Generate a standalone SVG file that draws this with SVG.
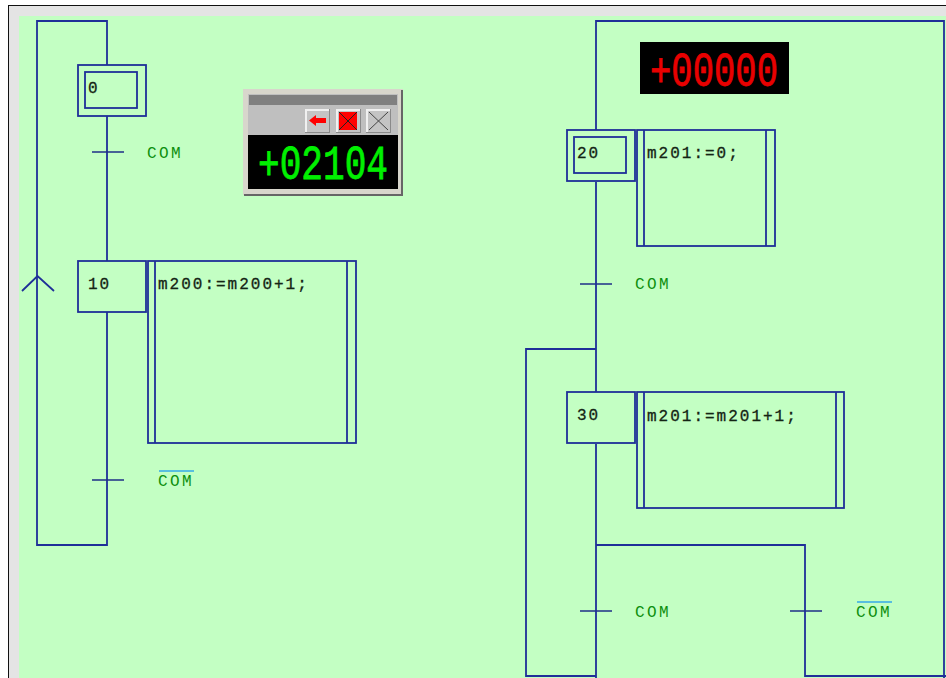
<svg xmlns="http://www.w3.org/2000/svg" width="946" height="678" viewBox="0 0 946 678">
<style>
.l{fill:none;stroke:#1f2f98;stroke-width:1.8}
.t{fill:none;stroke:#1f2f88;stroke-width:1.5}
.m{font-family:"Liberation Mono",monospace;font-size:16px;fill:#142414;letter-spacing:2px;stroke:#142414;stroke-width:.3}
.c{font-family:"Liberation Mono",monospace;font-size:16px;fill:#0e8f0e;letter-spacing:2.4px}
.o{stroke:#35a8e8;stroke-width:1.6}
.d{font-family:"Liberation Mono",monospace;font-size:48px}
.b{fill:#c4c4c4;stroke:#8a8a8a;stroke-width:1}
.h{fill:none;stroke:#f0f0f0;stroke-width:2}
</style>
<rect width="946" height="678" fill="#fff"/>
<rect x="8.500" y="5.500" width="938" height="674" fill="#e4e4e4" stroke="#111"/>
<rect x="19" y="16" width="927" height="662" fill="#c3ffc3"/>
<g id="connectors">
<path class="l" d="M107 65V21H37V545H107V312M107 116V261"/>
<path class="l" d="M22 291L37.500 276L54 291"/>
<path class="t" d="M92 152H124M92 480H124M580 284H612M580 611H612M790 611H822"/>
<path class="l" d="M596 130V21H944V678M596 182V392M596 444V678M596 349H526V676H596M596 545H805V676H946"/>
</g>
<g id="step0"><rect class="l" x="78" y="65" width="68" height="51"/><rect class="l" x="85" y="72" width="52" height="36"/><text class="m" x="88" y="93">0</text></g>
<g id="step10"><rect class="l" x="78" y="261" width="68" height="51"/><text class="m" x="88" y="289">10</text></g>
<g id="action10"><rect class="l" x="148" y="261" width="208" height="182"/><path class="l" d="M155 261V443M347 261V443"/><text class="m" x="158" y="289">m200:=m200+1;</text></g>
<g id="step20"><rect class="l" x="567" y="130" width="68" height="51"/><rect class="l" x="574" y="137" width="52" height="36"/><text class="m" x="577" y="158">20</text></g>
<g id="action20"><rect class="l" x="637" y="130" width="138" height="116"/><path class="l" d="M644 130V246M766 130V246"/><text class="m" x="647" y="158">m201:=0;</text></g>
<g id="step30"><rect class="l" x="567" y="392" width="68" height="51"/><text class="m" x="577" y="420">30</text></g>
<g id="action30"><rect class="l" x="637" y="392" width="207" height="116"/><path class="l" d="M644 392V508M836 392V508"/><text class="m" x="647" y="421">m201:=m201+1;</text></g>
<g id="labels">
<text class="c" x="147" y="158">COM</text>
<text class="c" x="158" y="486">COM</text><path class="o" d="M159 471H194"/>
<text class="c" x="635" y="289">COM</text>
<text class="c" x="635" y="617">COM</text>
<text class="c" x="856" y="617">COM</text><path class="o" d="M857 602H892"/>
</g>
<g id="display-red"><rect x="640" y="42" width="149" height="52" fill="#000"/><text class="d" x="650" y="86" fill="#e80000" stroke="#e80000" stroke-width=".8" textLength="128" lengthAdjust="spacingAndGlyphs">+00000</text></g>
<g id="display-green">
<rect x="243" y="89" width="160" height="106" fill="#d8d6cc"/>
<path d="M402 90V195H244" fill="none" stroke="#666" stroke-width="2"/>
<rect x="248" y="94" width="150" height="41" fill="#bfbfbf"/>
<rect x="249" y="95" width="148" height="10" fill="#808080"/>
<rect x="248" y="135" width="150" height="54" fill="#000"/>
<rect class="b" x="305.500" y="109.500" width="24" height="23"/><path class="h" d="M306 132V110H329"/>
<rect class="b" x="336.500" y="109.500" width="24" height="23"/><path class="h" d="M337 132V110H360"/>
<rect class="b" x="366.500" y="109.500" width="24" height="23"/><path class="h" d="M367 132V110H390"/>
<path d="M309 120.500L316 115V118H326V123H316V126Z" fill="#f00"/>
<rect x="339" y="112" width="18" height="18" fill="#f00"/>
<path d="M339 112L357 130M357 112L339 130" stroke="#222" fill="none"/>
<path d="M369 112L388 130M388 112L369 130" stroke="#444" fill="none"/>
<text class="d" x="258" y="179" fill="#00f000" stroke="#00f000" stroke-width=".8" textLength="130" lengthAdjust="spacingAndGlyphs">+02104</text>
</g>
</svg>
